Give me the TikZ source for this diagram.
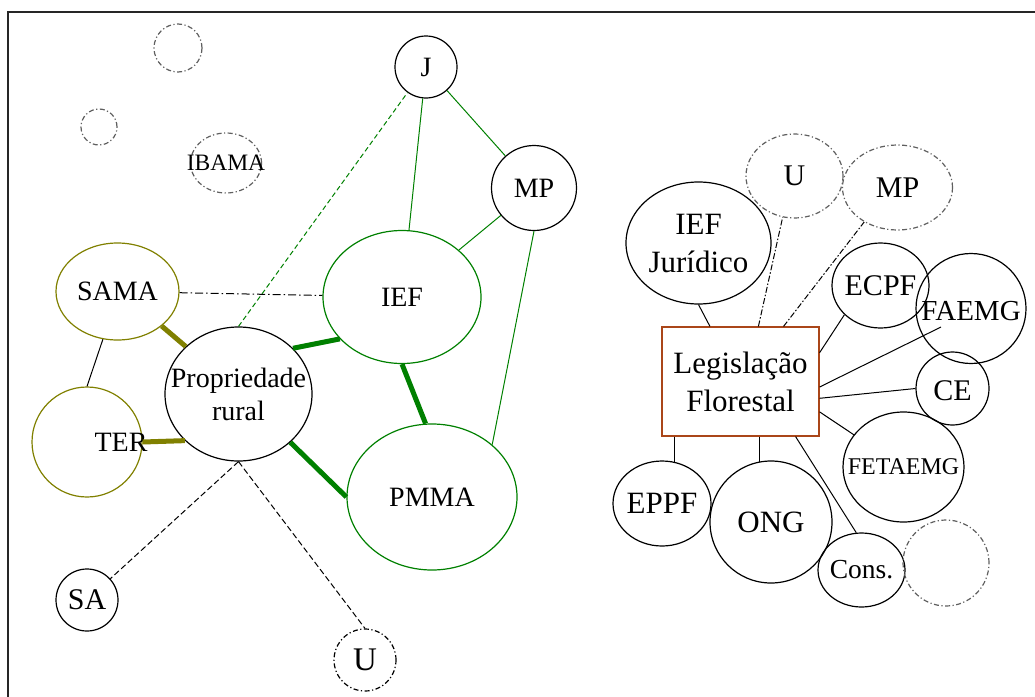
\documentclass[tikz,border=0pt]{standalone}
\usepackage{fontspec}
\setmainfont{Liberation Serif}
\usetikzlibrary{shapes.geometric, calc}
\definecolor{newgreen}{rgb}{0,0.5,0}
\definecolor{newolive}{rgb}{0.5,0.5,0}
\definecolor{legisbrown}{RGB}{170,70,25}
\definecolor{ghostgray}{RGB}{95,95,95}
\tikzset{
  bubble/.style = {ellipse, draw = black, line width = 1.2pt, inner sep = 0pt},
  ghostbubble/.style = {bubble, draw = ghostgray, dash pattern = on 5pt off 2.5pt on 1.2pt off 2.5pt},
  ltext/.style = {font = \fontsize{28}{33}\selectfont, align = center},
  rtext/.style = {font = \fontsize{30}{38}\selectfont, align = center},
  thin link/.style = {line width = 1pt},
  strong link/.style = {line width = 5pt},
  dot link/.style = {thin link, dash pattern = on 6pt off 2pt on 1.5pt off 2pt}
}

\begin{document}
\begin{tikzpicture}[x = 1pt, y = -1pt]
\useasboundingbox (0,0) rectangle (1035,696);
\draw[line width = 1.8pt, black!85] (8,12) rectangle (1045,710);
% left group
\node[ghostbubble, minimum size = 48] (blanka) at (178,48) {};
\node[ghostbubble, minimum size = 36] (blankb) at (99,127) {};
\node[ghostbubble, minimum width = 71, minimum height = 60, label = {[ltext, font = \fontsize{23.5}{28}\selectfont]center:IBAMA}] (ibama) at (226,163) {};
\node[bubble, minimum size = 62, label = {[ltext]center:J}] (j) at (426,67) {};
\node[bubble, minimum size = 85, label = {[ltext]center:MP}] (mp) at (534,188) {};
\node[bubble, draw = newgreen, minimum width = 158, minimum height = 133, label = {[ltext]center:IEF}] (ief) at (402,297) {};
\node[bubble, draw = newolive, minimum width = 123, minimum height = 97, label = {[ltext]center:SAMA}] (sama) at (117.5,291.5) {};
\node[bubble, minimum width = 147, minimum height = 134, label = {[ltext]center:{Propriedade\\rural}}] (prop) at (238.5,394) {};
\node[bubble, draw = newolive, minimum size = 110, label = {[ltext, xshift = 34pt]center:TER}] (ter) at (87,442) {};
\node[bubble, draw = newgreen, minimum width = 170, minimum height = 146, label = {[ltext]center:PMMA}] (pmma) at (432,497) {};
\node[bubble, minimum size = 62, label = {[ltext, font = \fontsize{30}{36}\selectfont]center:SA}] (sa) at (87,600) {};
\node[bubble, minimum size = 62, dash pattern = on 5pt off 2.5pt on 1.2pt off 2.5pt, label = {[ltext, font = \fontsize{33}{38}\selectfont]center:U}] (ubot) at (365,660) {};
\draw[newgreen, thin link, dash pattern = on 5pt off 3pt] (prop.north) -- (j);
\draw[newgreen, thin link] (j) -- (ief);
\draw[newgreen, thin link] (j) -- (mp);
\draw[newgreen, thin link] (mp) -- (ief);
\draw[newgreen, thin link] (mp.south) -- (pmma.41);
\draw[newgreen, strong link] (prop.40) -- (ief.214);
\draw[newgreen, strong link] (ief.south) -- (pmma.95);
\draw[newgreen, strong link] (prop.-43) -- (pmma.west);
\draw[newolive, strong link] (sama.-38) -- (prop.138);
\draw[newolive, strong link] (ter.east) -- (prop.221);
\draw[thin link] (sama.253) -- (ter.north);
\draw[thin link, dash pattern = on 8pt off 3pt on 1.5pt off 3pt] (sama) -- (ief);
\draw[thin link, dash pattern = on 6pt off 3pt] (prop.south) -- (sa);
\draw[thin link, dash pattern = on 6pt off 3pt] (prop.south) -- (ubot.north);
% right group
\node[ghostbubble, minimum width = 97, minimum height = 84, label = {[rtext]center:U}] (uright) at (794.5,176) {};
\node[ghostbubble, minimum width = 110, minimum height = 85, label = {[rtext]center:MP}] (mpright) at (897.5,187.5) {};
\node[bubble, minimum width = 145, minimum height = 122, label = {[rtext, font = \fontsize{31}{38}\selectfont]center:{IEF\\Jurídico}}] (iefj) at (698.5,243) {};
\node[rectangle, draw = legisbrown, line width = 1.1pt, minimum width = 157, minimum height = 109, inner sep = 0pt, rtext, font = \fontsize{31}{38}\selectfont] (legis) at (740.5,381.5) {Legislação\\Florestal};
\node[bubble, minimum width = 97, minimum height = 85, label = {[rtext]center:ECPF}] (ecpf) at (880.5,285.5) {};
\node[bubble, minimum size = 110, label = {[rtext, font = \fontsize{29}{35}\selectfont, yshift = -3pt]center:FAEMG}] (faemg) at (971,308.5) {};
\node[bubble, minimum size = 73, label = {[rtext, yshift = -2pt]center:CE}] (ce) at (952.5,388.5) {};
\node[bubble, minimum width = 121, minimum height = 110, label = {[rtext, font = \fontsize{24}{29}\selectfont]center:FETAEMG}] (fetaemg) at (903.5,467) {};
\node[bubble, minimum width = 98, minimum height = 85, label = {[rtext, font = \fontsize{31}{37}\selectfont]center:EPPF}] (eppf) at (662,503.5) {};
\node[bubble, minimum size = 122, label = {[rtext, font = \fontsize{31}{37}\selectfont]center:ONG}] (ong) at (771,522) {};
\node[bubble, minimum width = 87, minimum height = 74, label = {[rtext, font = \fontsize{27.5}{33}\selectfont]center:Cons.}] (cons) at (861.5,570) {};
\node[ghostbubble, minimum size = 86] (blankc) at (946,563) {};
\draw[thin link] (legis.119) -- (iefj.south);
\draw[dot link] (legis.72) -- (uright.254);
\draw[dot link] (legis.52) -- (mpright.226);
\draw[thin link] (legis.20.6) -- (ecpf.219);
\draw[thin link] (legis.-4) -- ([shift = {(-30,18.5)}]faemg.center);
\draw[thin link] (legis.-12.6) -- (ce.west);
\draw[thin link] (legis.-21.9) -- (fetaemg.147);
\draw[thin link] (eppf.74 |- legis.south) -- (eppf.74);
\draw[thin link] (ong.101 |- legis.south) -- (ong.101);
\draw[thin link] (legis.-45.5) -- (cons.98.5);
\end{tikzpicture}
\end{document}
